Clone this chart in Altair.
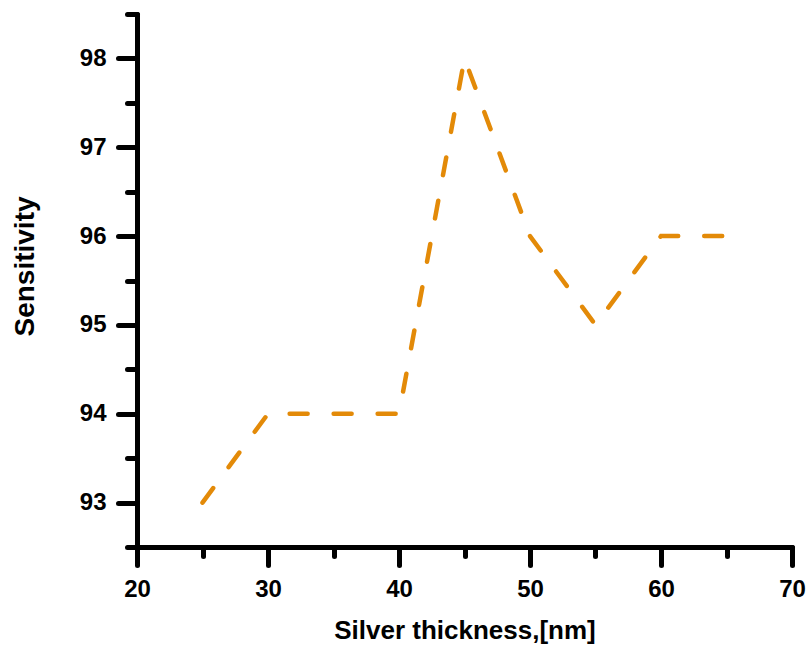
import altair as alt
import pandas as pd

thickness = [25, 30, 35, 40, 45, 50, 55, 60, 65]
sensitivity = [93, 94, 94, 94, 98, 96, 95, 96, 96]

x_major = [20, 30, 40, 50, 60, 70]
x_minor = [25, 35, 45, 55, 65]
y_major = [93, 94, 95, 96, 97, 98]
y_minor = [92.5, 93.5, 94.5, 95.5, 96.5, 97.5, 98.5]

df = pd.DataFrame({"x": thickness, "y": sensitivity})

FONT = "Liberation Sans"
xs = alt.Scale(domain=[20, 70], nice=False, zero=False)
ys = alt.Scale(domain=[92.5, 98.5], nice=False, zero=False)

common = dict(domainColor="black", tickColor="black", domainWidth=5, tickWidth=5,
              domainCap="round", tickCap="round", grid=False, labelFlush=False,
              labelFont=FONT, labelFontWeight="bold", labelFontSize=24, labelColor="black",
              titleFont=FONT, titleFontWeight="bold", titleColor="black")

line = alt.Chart(df).mark_line(
    color="#E38A08", strokeWidth=4.5, strokeDash=[18, 26], strokeCap="round"
).encode(
    x=alt.X("x:Q", scale=xs, axis=alt.Axis(values=x_major, tickSize=18, labelPadding=12,
                                             title="Silver thickness,[nm]", titlePadding=16,
                                             titleFontSize=26, orient="bottom", **common)),
    y=alt.Y("y:Q", scale=ys, axis=alt.Axis(values=y_major, tickSize=19, labelPadding=12,
                                             title="Sensitivity", titlePadding=40, titleY=252,
                                             titleFontSize=28, orient="left", **common)),
)

minor_common = dict(common)
minor_common.update(dict(labels=False, domain=False, title=None))

minor = alt.Chart(df).mark_line(opacity=0).encode(
    x=alt.X("x:Q", scale=xs, axis=alt.Axis(values=x_minor, tickSize=9, orient="bottom", **minor_common)),
    y=alt.Y("y:Q", scale=ys, axis=alt.Axis(values=y_minor, tickSize=10, orient="left", **minor_common)),
)

chart = alt.layer(line, minor).resolve_axis(x="independent", y="independent").properties(
    width=655, height=533,
    autosize=alt.AutoSizeParams(type="none"),
    padding={"left": 137, "top": 14, "right": 14, "bottom": 112},
    background="white",
).configure_view(stroke=None)

chart.save("out.html", embed_options={"renderer": "svg", "actions": False})
